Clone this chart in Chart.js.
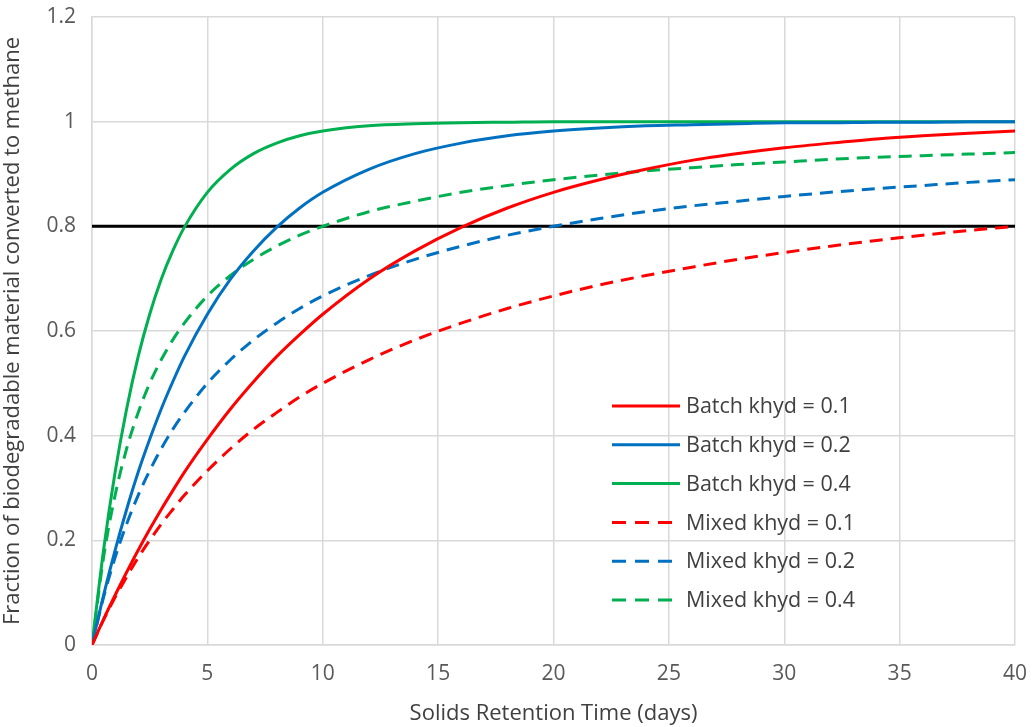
<!DOCTYPE html>
<html>
<head>
<meta charset="utf-8">
<script src="https://cdn.jsdelivr.net/npm/chart.js@4.4.0/dist/chart.umd.min.js"></script>
<style>
  html, body { margin: 0; padding: 0; background: #fff; }
  #wrap { width: 1034px; height: 727px; position: relative; }
</style>
</head>
<body>
<div id="wrap"><canvas id="myChart" width="1034" height="727"></canvas></div>
<script>
// Solids retention time (days) where values were read
var srt = [0, 0.5, 1, 1.5, 2, 2.5, 3, 3.5, 4, 5, 6, 7, 8, 9, 10, 12, 14, 16, 18, 20, 22, 24, 26, 28, 30, 32, 34, 36, 38, 40];

// Fraction converted
var batch01 = [0, 0.049, 0.095, 0.139, 0.181, 0.221, 0.259, 0.295, 0.330, 0.393, 0.451, 0.503, 0.551, 0.593, 0.632, 0.699, 0.753, 0.798, 0.835, 0.865, 0.889, 0.909, 0.926, 0.939, 0.950, 0.959, 0.967, 0.973, 0.978, 0.982];
var batch02 = [0, 0.095, 0.181, 0.259, 0.330, 0.393, 0.451, 0.503, 0.551, 0.632, 0.699, 0.753, 0.798, 0.835, 0.865, 0.909, 0.939, 0.959, 0.973, 0.982, 0.988, 0.992, 0.994, 0.996, 0.998, 0.998, 0.999, 0.999, 1.0, 1.0];
var batch04 = [0, 0.181, 0.330, 0.451, 0.551, 0.632, 0.699, 0.753, 0.798, 0.865, 0.909, 0.939, 0.959, 0.973, 0.982, 0.992, 0.996, 0.998, 0.999, 1.0, 1.0, 1.0, 1.0, 1.0, 1.0, 1.0, 1.0, 1.0, 1.0, 1.0];
var mixed01 = [0, 0.048, 0.091, 0.130, 0.167, 0.200, 0.231, 0.259, 0.286, 0.333, 0.375, 0.412, 0.444, 0.474, 0.500, 0.545, 0.583, 0.615, 0.643, 0.667, 0.688, 0.706, 0.722, 0.737, 0.750, 0.762, 0.773, 0.783, 0.792, 0.800];
var mixed02 = [0, 0.091, 0.167, 0.231, 0.286, 0.333, 0.375, 0.412, 0.444, 0.500, 0.545, 0.583, 0.615, 0.643, 0.667, 0.706, 0.737, 0.762, 0.783, 0.800, 0.815, 0.828, 0.839, 0.848, 0.857, 0.865, 0.872, 0.878, 0.884, 0.889];
var mixed04 = [0, 0.167, 0.286, 0.375, 0.444, 0.500, 0.545, 0.583, 0.615, 0.667, 0.706, 0.737, 0.762, 0.783, 0.800, 0.828, 0.848, 0.865, 0.878, 0.889, 0.898, 0.906, 0.912, 0.918, 0.923, 0.928, 0.932, 0.935, 0.938, 0.941];

// 80% target line
var targetX = [0, 40];
var targetY = [0.8, 0.8];

var seriesLabels = ['Batch khyd = 0.1', 'Batch khyd = 0.2', 'Batch khyd = 0.4', 'Mixed khyd = 0.1', 'Mixed khyd = 0.2', 'Mixed khyd = 0.4'];
var seriesValues = [batch01, batch02, batch04, mixed01, mixed02, mixed04];
var seriesColors = ['#ff0000', '#0070c0', '#00b050', '#ff0000', '#0070c0', '#00b050'];
var seriesDashed = [false, false, false, true, true, true];

var FONT = 'Open Sans, sans-serif';
var TEXT = '#595959';

function toPoints(xs, ys) {
    var pts = [];
    for (var i = 0; i < xs.length; i++) {
        pts.push({ x: xs[i], y: ys[i] });
    }
    return pts;
}

var datasets = [];
for (var i = 0; i < seriesLabels.length; i++) {
    datasets.push({
        label: seriesLabels[i],
        data: toPoints(srt, seriesValues[i]),
        borderColor: seriesColors[i],
        borderWidth: 3,
        borderDash: seriesDashed[i] ? [13, 8] : [],
        pointRadius: 0,
        cubicInterpolationMode: 'monotone',
        fill: false
    });
}
datasets.push({
    label: 'target',
    data: toPoints(targetX, targetY),
    borderColor: '#000000',
    borderWidth: 3,
    pointRadius: 0,
    fill: false
});

// Legend drawn inside the plot area, lower right
var insideLegend = {
    id: 'insideLegend',
    afterDatasetsDraw: function(chart) {
        var c = chart.ctx;
        var x0 = 612, x1 = 680, y = 406, step = 38.8;
        c.save();
        c.font = '21.5px ' + FONT;
        c.textBaseline = 'middle';
        c.textAlign = 'left';
        for (var i = 0; i < seriesLabels.length; i++) {
            c.beginPath();
            c.strokeStyle = seriesColors[i];
            c.lineWidth = 3;
            c.setLineDash(seriesDashed[i] ? [14, 9] : []);
            c.moveTo(x0, y + i * step);
            c.lineTo(x1, y + i * step);
            c.stroke();
            c.setLineDash([]);
            c.fillStyle = '#404040';
            c.fillText(seriesLabels[i], x1 + 6, y + i * step + 1);
        }
        c.restore();
    }
};

var ctx = document.getElementById('myChart').getContext('2d');
var myChart = new Chart(ctx, {
    type: 'line',
    data: { datasets: datasets },
    plugins: [insideLegend],
    options: {
        responsive: false,
        animation: false,
        layout: { padding: { top: 17, right: 19, bottom: 0, left: 0 } },
        plugins: {
            legend: { display: false },
            tooltip: { enabled: false }
        },
        scales: {
            x: {
                type: 'linear',
                min: 0,
                max: 40,
                ticks: {
                    stepSize: 5,
                    color: TEXT,
                    font: { family: FONT, size: 21 },
                    padding: 16,
                    maxRotation: 0
                },
                grid: { color: '#d9d9d9', lineWidth: 1.5, drawTicks: false },
                border: { color: '#d9d9d9', width: 1.5 },
                title: {
                    display: true,
                    text: 'Solids Retention Time (days)',
                    color: '#404040',
                    font: { family: FONT, size: 22 },
                    padding: { top: 4, bottom: 0 }
                },
                afterFit: function(scale) {
                    scale.height = 82;
                    scale.paddingLeft = 0;
                    scale.paddingRight = 0;
                }
            },
            y: {
                min: 0,
                max: 1.2,
                ticks: {
                    stepSize: 0.2,
                    color: TEXT,
                    font: { family: FONT, size: 21 },
                    padding: 16,
                    callback: function(v) { return String(Number(v.toFixed(1))); }
                },
                grid: { color: '#d9d9d9', lineWidth: 1.5, drawTicks: false },
                border: { color: '#d9d9d9', width: 1.5 },
                title: {
                    display: true,
                    text: 'Fraction of biodegradable material converted to methane',
                    color: '#404040',
                    font: { family: FONT, size: 22 },
                    padding: { top: 0, bottom: 2 }
                },
                afterFit: function(scale) {
                    scale.width = 92;
                    scale.paddingTop = 0;
                    scale.paddingBottom = 0;
                }
            }
        }
    }
});
</script>
</body>
</html>
